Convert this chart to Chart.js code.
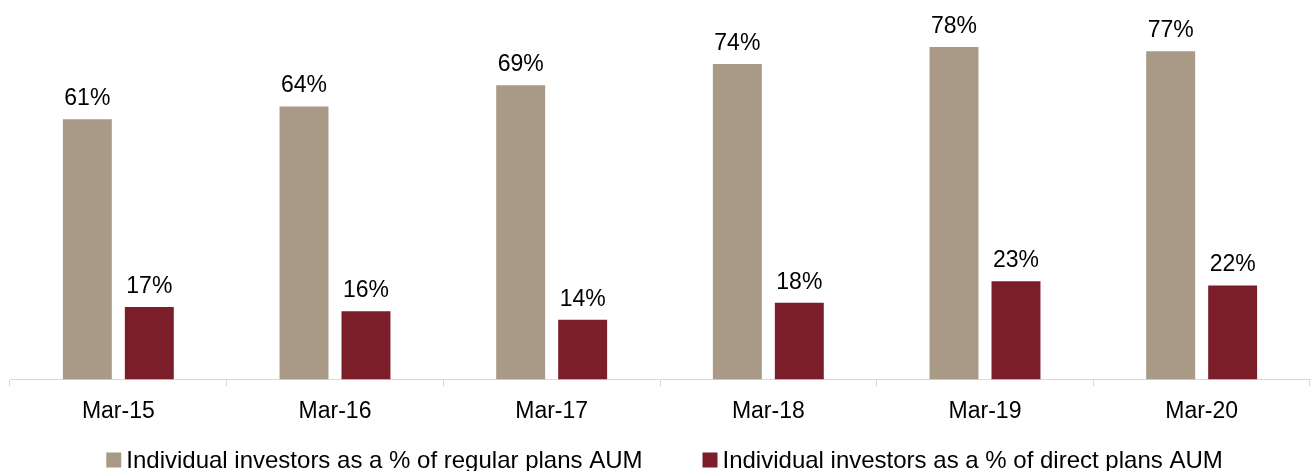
<!DOCTYPE html>
<html>
<head>
<meta charset="utf-8">
<title>Individual investors share of AUM</title>
<script src="https://cdn.jsdelivr.net/npm/chart.js@4.4.1/dist/chart.umd.min.js"></script>
<style>
    html, body { margin: 0; padding: 0; background: #ffffff; }
    #wrap { width: 1315px; height: 471px; position: relative; }
</style>
</head>
<body>
<div id="wrap"><canvas id="aumChart"></canvas></div>
<script>
    const periods = ['Mar-15', 'Mar-16', 'Mar-17', 'Mar-18', 'Mar-19', 'Mar-20'];
    const regularShare = [61, 64, 69, 74, 78, 77];
    const directShare = [17, 16, 14, 18, 23, 22];
    const seriesNames = [
        'Individual investors as a % of regular plans AUM',
        'Individual investors as a % of direct plans AUM'
    ];

    const FONT = '"Liberation Sans", Arial, sans-serif';

    // percentage labels above each bar
    const valueLabels = {
        id: 'valueLabels',
        afterDatasetsDraw(chart) {
            const ctx = chart.ctx;
            ctx.save();
            ctx.font = '23px ' + FONT;
            ctx.fillStyle = '#000000';
            ctx.textAlign = 'center';
            ctx.textBaseline = 'bottom';
            chart.data.datasets.forEach((ds, i) => {
                chart.getDatasetMeta(i).data.forEach((bar, j) => {
                    ctx.fillText(ds.data[j] + '%', bar.x, bar.y - 9);
                });
            });
            ctx.restore();
        }
    };

    // legend row along the bottom: small square + text, wide gap between entries
    const bottomLegend = {
        id: 'bottomLegend',
        afterDraw(chart) {
            const ctx = chart.ctx;
            const box = 15, gap = 5, spacing = 60;
            ctx.save();
            ctx.font = '24px ' + FONT;
            const items = chart.data.datasets.map(ds => ({
                text: ds.label,
                color: ds.backgroundColor,
                w: box + gap + ctx.measureText(ds.label).width
            }));
            const total = items.reduce((s, it) => s + it.w, 0) + spacing * (items.length - 1);
            let x = (chart.width - total) / 2 + 7;
            const cy = 460;
            ctx.textBaseline = 'middle';
            ctx.textAlign = 'left';
            items.forEach(it => {
                ctx.fillStyle = it.color;
                ctx.fillRect(x, cy - box / 2, box, box);
                ctx.fillStyle = '#000000';
                ctx.fillText(it.text, x + box + gap, cy + 1);
                x += it.w + spacing;
            });
            ctx.restore();
        }
    };

    new Chart(document.getElementById('aumChart'), {
        type: 'bar',
        data: {
            labels: periods,
            datasets: [{
                label: seriesNames[0],
                data: regularShare,
                backgroundColor: '#A89A86'
            }, {
                label: seriesNames[1],
                data: directShare,
                backgroundColor: '#7B1E2A'
            }]
        },
        options: {
            responsive: true,
            maintainAspectRatio: false,
            animation: false,
            categoryPercentage: 0.572,
            barPercentage: 0.79,
            layout: { padding: { left: 10, right: 5, top: 0, bottom: 35 } },
            scales: {
                x: {
                    grid: {
                        drawOnChartArea: false,
                        drawTicks: true,
                        tickLength: 7,
                        color: '#d9d9d9'
                    },
                    border: { display: true, color: '#d9d9d9', width: 1 },
                    ticks: {
                        color: '#000000',
                        padding: 11,
                        font: { family: FONT, size: 23 }
                    }
                },
                y: {
                    display: false,
                    min: 0,
                    max: 89
                }
            },
            plugins: {
                legend: { display: false },
                tooltip: { enabled: false }
            }
        },
        plugins: [valueLabels, bottomLegend]
    });
</script>
</body>
</html>
